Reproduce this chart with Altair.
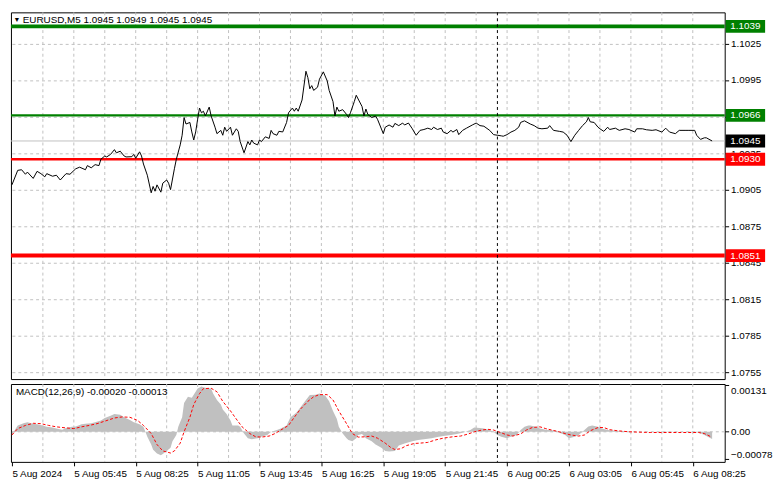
import json
import altair as alt
import pandas as pd

FONT = "Liberation Sans"

# ---------------- data ----------------
symbol_title = "EURUSD,M5  1.0945 1.0949 1.0945 1.0945"
macd_title = "MACD(12,26,9) -0.00020 -0.00013"

time_labels = ["5 Aug 2024", "5 Aug 05:45", "5 Aug 08:25", "5 Aug 11:05", "5 Aug 13:45",
               "5 Aug 16:25", "5 Aug 19:05", "5 Aug 21:45", "6 Aug 00:25", "6 Aug 03:05",
               "6 Aug 05:45", "6 Aug 08:25"]
label_bars = [0, 32, 64, 96, 128, 160, 192, 224, 256, 288, 320, 352]
grid_bars = [16, 32, 48, 64, 80, 96, 112, 128, 144, 160, 176, 192, 208, 224, 240, 256,
             272, 288, 304, 320, 336, 352]
separator_bar = 251

price_ticks = [1.0755, 1.0785, 1.0815, 1.0845, 1.0875, 1.0905, 1.0935, 1.0965, 1.0995, 1.1025]
hidden_tick = 1.0965  # its label sits under the 1.0966 box
macd_ticks = [-0.00078, 0.0, 0.00131]

level_values = [1.1039, 1.0966, 1.0930, 1.0851]
level_colors = ["#008000", "#008000", "#FF0000", "#FF0000"]
level_widths = [4, 2.5, 2.5, 4]
bid_price = 1.0945

# (bar index, close price)
price_points = [
    (0, 1.09090), (3, 1.09209), (5, 1.09214), (7, 1.09177), (8, 1.09195), (11, 1.09143),
    (13, 1.09201), (15, 1.09182), (17, 1.09156), (18, 1.09182), (21, 1.09161), (23, 1.09169),
    (25, 1.09130), (28, 1.09182), (30, 1.09177), (33, 1.09222), (35, 1.09235), (38, 1.09214),
    (39, 1.09248), (41, 1.09230), (43, 1.09256), (45, 1.09248), (46, 1.09300), (48, 1.09327),
    (49, 1.09319), (51, 1.09340), (53, 1.09379), (54, 1.09353), (56, 1.09366), (58, 1.09327),
    (59, 1.09319), (62, 1.09321), (63, 1.09340), (64, 1.09308), (66, 1.09361), (67, 1.09327),
    (68, 1.09261), (70, 1.09169), (72, 1.09025), (73, 1.09077), (74, 1.09038), (75, 1.09090),
    (77, 1.09030), (78, 1.09104), (80, 1.09130), (81, 1.09104), (82, 1.09051), (84, 1.09222),
    (85, 1.09300), (87, 1.09418), (88, 1.09497), (89, 1.09642), (90, 1.09589), (92, 1.09602),
    (93, 1.09524), (94, 1.09458), (95, 1.09524), (96, 1.09628), (97, 1.09720), (98, 1.09681),
    (99, 1.09694), (100, 1.09655), (102, 1.09728), (103, 1.09655), (105, 1.09563), (106, 1.09510),
    (108, 1.09537), (109, 1.09497), (110, 1.09563), (111, 1.09529), (113, 1.09563), (114, 1.09497),
    (116, 1.09550), (117, 1.09529), (118, 1.09445), (120, 1.09353), (122, 1.09445), (123, 1.09418),
    (124, 1.09458), (125, 1.09432), (127, 1.09418), (128, 1.09458), (129, 1.09445), (131, 1.09484),
    (133, 1.09471), (134, 1.09537), (135, 1.09510), (137, 1.09497), (138, 1.09529), (140, 1.09524),
    (142, 1.09602), (143, 1.09681), (145, 1.09720), (146, 1.09694), (147, 1.09720), (148, 1.09694),
    (150, 1.09786), (152, 1.10022), (153, 1.09970), (154, 1.09878), (155, 1.09904), (156, 1.09865),
    (158, 1.09891), (159, 1.09957), (161, 1.10017), (163, 1.09943), (164, 1.09865), (166, 1.09773),
    (167, 1.09655), (168, 1.09728), (169, 1.09694), (171, 1.09707), (173, 1.09668), (174, 1.09642),
    (175, 1.09681), (177, 1.09773), (178, 1.09825), (181, 1.09733), (182, 1.09655), (183, 1.09712),
    (184, 1.09668), (186, 1.09642), (188, 1.09655), (189, 1.09628), (190, 1.09589), (192, 1.09510),
    (193, 1.09563), (195, 1.09581), (197, 1.09563), (198, 1.09594), (200, 1.09576), (202, 1.09597),
    (203, 1.09581), (205, 1.09597), (207, 1.09550), (208, 1.09523), (209, 1.09497), (211, 1.09537),
    (213, 1.09544), (215, 1.09555), (217, 1.09544), (218, 1.09563), (220, 1.09544), (222, 1.09555),
    (223, 1.09523), (225, 1.09510), (227, 1.09537), (228, 1.09523), (230, 1.09544), (231, 1.09502),
    (233, 1.09537), (235, 1.09555), (238, 1.09581), (240, 1.09597), (242, 1.09576), (244, 1.09571),
    (247, 1.09537), (249, 1.09502), (251, 1.09497), (253, 1.09492), (254, 1.09489), (256, 1.09502),
    (258, 1.09523), (260, 1.09537), (262, 1.09563), (263, 1.09602), (265, 1.09615), (268, 1.09589),
    (270, 1.09576), (272, 1.09555), (274, 1.09550), (277, 1.09555), (278, 1.09576), (280, 1.09537),
    (283, 1.09529), (285, 1.09523), (287, 1.09497), (288, 1.09471), (289, 1.09445), (291, 1.09497),
    (293, 1.09537), (295, 1.09576), (297, 1.09607), (298, 1.09642), (299, 1.09607), (301, 1.09602),
    (303, 1.09563), (304, 1.09550), (306, 1.09529), (308, 1.09563), (309, 1.09544), (312, 1.09555),
    (314, 1.09537), (317, 1.09550), (319, 1.09544), (322, 1.09523), (323, 1.09550), (326, 1.09550),
    (328, 1.09542), (331, 1.09537), (333, 1.09542), (336, 1.09523), (338, 1.09555), (340, 1.09523),
    (343, 1.09510), (345, 1.09537), (348, 1.09537), (350, 1.09537), (353, 1.09537), (354, 1.09497),
    (356, 1.09463), (358, 1.09476), (359, 1.09476), (362, 1.09450),
]

# (bar index, MACD main value) - drawn as histogram
macd_hist_points = [
    (0, -0.00009), (2, 0.00009), (3, 0.00018), (6, 0.00024), (8, 0.00027), (11, 0.00023),
    (13, 0.00021), (16, 0.00018), (18, 0.00014), (21, 0.00012), (23, 0.00009), (26, 0.00006),
    (28, 0.00011), (31, 0.00014), (33, 0.00015), (36, 0.00021), (38, 0.00023), (41, 0.00024),
    (43, 0.00027), (46, 0.00032), (48, 0.00039), (51, 0.00045), (53, 0.00050), (56, 0.00048),
    (58, 0.00041), (61, 0.00033), (63, 0.00027), (66, 0.00021), (68, 0.00014), (69, 0.0),
    (70, -0.00014), (72, -0.00036), (73, -0.00051), (75, -0.00061), (77, -0.00066), (78, -0.00063),
    (80, -0.00054), (82, -0.00045), (83, -0.00027), (85, -0.00009), (86, 0.00014), (88, 0.00041),
    (89, 0.00081), (91, 0.00099), (93, 0.00096), (94, 0.00105), (96, 0.00122), (98, 0.00128),
    (99, 0.00126), (101, 0.00123), (103, 0.00122), (104, 0.00108), (106, 0.00090), (108, 0.00077),
    (109, 0.00063), (111, 0.00050), (113, 0.00032), (114, 0.00018), (117, 0.00018), (118, 0.00014),
    (120, -0.00005), (122, -0.00018), (124, -0.00021), (127, -0.00018), (129, -0.00014),
    (132, -0.00009), (134, 0.0), (137, 0.00005), (139, 0.00009), (142, 0.00018), (144, 0.00041),
    (147, 0.00054), (149, 0.00068), (152, 0.00090), (154, 0.00104), (157, 0.00105), (159, 0.00108),
    (162, 0.00102), (164, 0.00086), (166, 0.00059), (168, 0.00036), (169, 0.00014), (171, -0.00005),
    (173, -0.00018), (174, -0.00023), (176, -0.00027), (178, -0.00018), (179, -0.00009),
    (181, -0.00006), (183, -0.00018), (186, -0.00027), (188, -0.00036), (191, -0.00045),
    (193, -0.00054), (195, -0.00056), (198, -0.00054), (200, -0.00039), (203, -0.00033),
    (207, -0.00027), (210, -0.00023), (213, -0.00021), (217, -0.00018), (220, -0.00015),
    (223, -0.00012), (227, -0.00009), (230, -0.00006), (233, -0.00003), (237, 0.00005),
    (239, 0.00012), (242, 0.00011), (244, 0.00009), (247, 0.00005), (249, 0.0), (251, -0.00009),
    (253, -0.00014), (256, -0.00018), (258, -0.00014), (261, -0.00009), (263, 0.00005),
    (265, 0.00014), (267, 0.00018), (268, 0.00018), (271, 0.00014), (273, 0.00009), (276, 0.00006),
    (278, 0.00005), (281, 0.00003), (283, -0.00003), (286, -0.00009), (288, -0.00018),
    (291, -0.00014), (293, -0.00009), (296, 0.00005), (298, 0.00015), (300, 0.00018),
    (303, 0.00014), (305, 0.00009), (308, 0.00005), (312, 0.00003), (315, 0.00002), (320, 0.0),
    (330, 0.0), (338, 0.00001), (347, 0.0), (355, -0.00002), (358, -0.00009), (360, -0.00015),
    (362, -0.00020),
]

# (bar index, signal value) - red dotted line
signal_points = [
    (0, -0.00009), (3, 0.00009), (7, 0.00018), (11, 0.00024), (15, 0.00023), (19, 0.00018),
    (23, 0.00014), (28, 0.00011), (32, 0.00009), (36, 0.00014), (40, 0.00018), (44, 0.00023),
    (48, 0.00030), (53, 0.00039), (57, 0.00042), (61, 0.00041), (65, 0.00032), (68, 0.00018),
    (72, -0.00005), (75, -0.00036), (78, -0.00054), (82, -0.00060), (84, -0.00054), (87, -0.00032),
    (89, 0.0), (92, 0.00041), (94, 0.00077), (97, 0.00108), (99, 0.00122), (103, 0.00123),
    (106, 0.00113), (109, 0.00086), (113, 0.00059), (116, 0.00036), (119, 0.00014), (123, -0.00005),
    (126, -0.00014), (129, -0.00015), (133, -0.00012), (136, -0.00005), (139, 0.00005),
    (143, 0.00018), (146, 0.00041), (149, 0.00063), (153, 0.00086), (156, 0.00099), (159, 0.00105),
    (163, 0.00105), (166, 0.00090), (169, 0.00059), (173, 0.00023), (176, -0.00005),
    (179, -0.00015), (183, -0.00014), (186, -0.00012), (189, -0.00018), (193, -0.00032),
    (196, -0.00045), (198, -0.00050), (201, -0.00048), (204, -0.00039), (208, -0.00033),
    (211, -0.00032), (215, -0.00030), (219, -0.00023), (223, -0.00018), (228, -0.00014),
    (232, -0.00012), (236, -0.00006), (239, 0.0), (243, 0.00005), (246, 0.00007), (249, 0.00005),
    (253, -0.00003), (256, -0.00009), (259, -0.00012), (263, -0.00006), (266, 0.00005),
    (269, 0.00012), (273, 0.00014), (276, 0.00009), (279, 0.00005), (283, 0.0), (286, -0.00005),
    (289, -0.00009), (293, -0.00012), (296, -0.00009), (299, 0.00003), (303, 0.00012),
    (306, 0.00012), (309, 0.00006), (313, 0.00003), (319, 0.0), (330, -0.00002), (347, -0.00002),
    (355, -0.00002), (358, -0.00005), (361, -0.00013),
]

# ---------------- tables ----------------
price_df = pd.DataFrame(price_points, columns=["bar", "price"])
hist_df = pd.DataFrame(macd_hist_points, columns=["bar", "macd"])
signal_df = pd.DataFrame(signal_points, columns=["bar", "macd"])
grid_df = pd.DataFrame({"bar": grid_bars})
sep_df = pd.DataFrame({"bar": [separator_bar]})
levels_df = pd.DataFrame({"price": level_values, "color": level_colors, "w": level_widths})
boxes_df = pd.DataFrame({
    "price": level_values + [bid_price],
    "bg": level_colors + ["#000000"],
    "label": [f"{v:.4f}" for v in level_values + [bid_price]],
})
bid_df = pd.DataFrame({"price": [bid_price]})
title_df = pd.DataFrame({"t": [symbol_title]})
macd_title_df = pd.DataFrame({"t": [macd_title]})

# ---------------- layout (whole svg must fit 765 x 473) ----------------
W = 724
H_PRICE = 372
H_MACD = 79
BOX_X = W + 21

x_scale = alt.Scale(domain=[-0.5, 368.5], nice=False, zero=False)
x_none = alt.X("bar:Q", scale=x_scale, axis=None)

price_axis = alt.Axis(orient="right", values=price_ticks,
                      labelExpr=f"abs(datum.value - {hidden_tick}) < 0.00001 ? '' : format(datum.value, '.4f')",
                      grid=True, gridColor="#C0C0C0", gridDash=[3, 3], gridWidth=1,
                      tickColor="black", tickSize=4, labelColor="black", labelFont=FONT,
                      labelFontSize=10, domain=False, title=None, labelPadding=2)
y_price = alt.Y("price:Q", scale=alt.Scale(domain=[1.07497, 1.10505], nice=False, zero=False),
                axis=price_axis)

vgrid = alt.Chart(grid_df).mark_rule(color="#C0C0C0", strokeDash=[3, 3], strokeWidth=1).encode(x=x_none)

level_rules = alt.Chart(levels_df).mark_rule().encode(
    y=y_price,
    color=alt.Color("color:N", scale=None),
    strokeWidth=alt.StrokeWidth("w:Q", scale=None),
)
bid_rule = alt.Chart(bid_df).mark_rule(color="#C0C0C0", strokeWidth=1).encode(y=y_price)
price_line = alt.Chart(price_df).mark_line(color="black", strokeWidth=1).encode(x=x_none, y=y_price)
sep_rule = alt.Chart(sep_df).mark_rule(color="black", strokeDash=[3, 3], strokeWidth=1).encode(x=x_none)

boxes = alt.Chart(boxes_df).mark_tick(orient="horizontal", thickness=13, size=40, opacity=1).encode(
    y=y_price, x=alt.value(BOX_X), color=alt.Color("bg:N", scale=None))
box_text = alt.Chart(boxes_df).mark_text(color="white", font=FONT, fontSize=10,
                                         align="center", baseline="middle").encode(
    y=y_price, x=alt.value(BOX_X), text="label:N")

triangle = alt.Chart(title_df).mark_text(text="▼", fontSize=7, color="black",
                                         align="center", baseline="middle").encode(
    x=alt.value(6), y=alt.value(8))
title_text = alt.Chart(title_df).mark_text(font=FONT, fontSize=10, color="black",
                                           align="left", baseline="middle").encode(
    x=alt.value(12), y=alt.value(8), text="t:N")

price_panel = alt.layer(vgrid, bid_rule, level_rules, price_line, sep_rule, boxes, box_text,
                        triangle, title_text).properties(width=W, height=H_PRICE)

# MACD panel
label_expr = f"{json.dumps(time_labels)}[indexof({json.dumps(label_bars)}, datum.value)]"
x_axis = alt.Axis(values=label_bars, labelExpr=label_expr, labelAlign="left", labelFlush=False,
                  grid=False, tickColor="black", tickSize=4, labelColor="black", labelFont=FONT,
                  labelFontSize=10, domain=False, title=None, labelPadding=3)
x_macd = alt.X("bar:Q", scale=x_scale, axis=x_axis)

macd_axis = alt.Axis(orient="right", values=macd_ticks, grid=False,
                     labelExpr="datum.value == 0 ? '0.00' : format(datum.value, '.5f')",
                     labelFlush=6, tickColor="black", tickSize=4, labelColor="black",
                     labelFont=FONT, labelFontSize=10, domain=False, title=None, labelPadding=2)
y_macd = alt.Y("macd:Q", scale=alt.Scale(domain=[-0.00085, 0.00135], nice=False, zero=False),
               axis=macd_axis)

vgrid_m = alt.Chart(grid_df).mark_rule(color="#C0C0C0", strokeDash=[3, 3], strokeWidth=1).encode(x=x_macd)
zero_rule = alt.Chart(pd.DataFrame({"macd": [0.0]})).mark_rule(
    color="#C0C0C0", strokeDash=[3, 3], strokeWidth=1).encode(y=y_macd)
hist_area = alt.Chart(hist_df).mark_area(color="#C0C0C0", opacity=1, interpolate="linear").encode(
    x=x_macd, y=y_macd, y2=alt.datum(0))
signal_line = alt.Chart(signal_df).mark_line(color="#FF0000", strokeDash=[3, 2], strokeWidth=1).encode(
    x=x_macd, y=y_macd)
sep_rule_m = alt.Chart(sep_df).mark_rule(color="black", strokeDash=[3, 3], strokeWidth=1).encode(x=x_macd)
macd_text = alt.Chart(macd_title_df).mark_text(font=FONT, fontSize=10, color="black",
                                               align="left", baseline="middle").encode(
    x=alt.value(5), y=alt.value(8), text="t:N")

macd_panel = alt.layer(vgrid_m, zero_rule, hist_area, signal_line, sep_rule_m, macd_text).properties(
    width=W, height=H_MACD)

chart = alt.vconcat(price_panel, macd_panel, spacing=3).properties(
    padding={"left": 0, "top": 0, "right": 0, "bottom": 0}, background="white"
).configure_view(stroke="black", strokeWidth=1)

chart.save("out.html", embed_options={"renderer": "svg", "actions": False})
